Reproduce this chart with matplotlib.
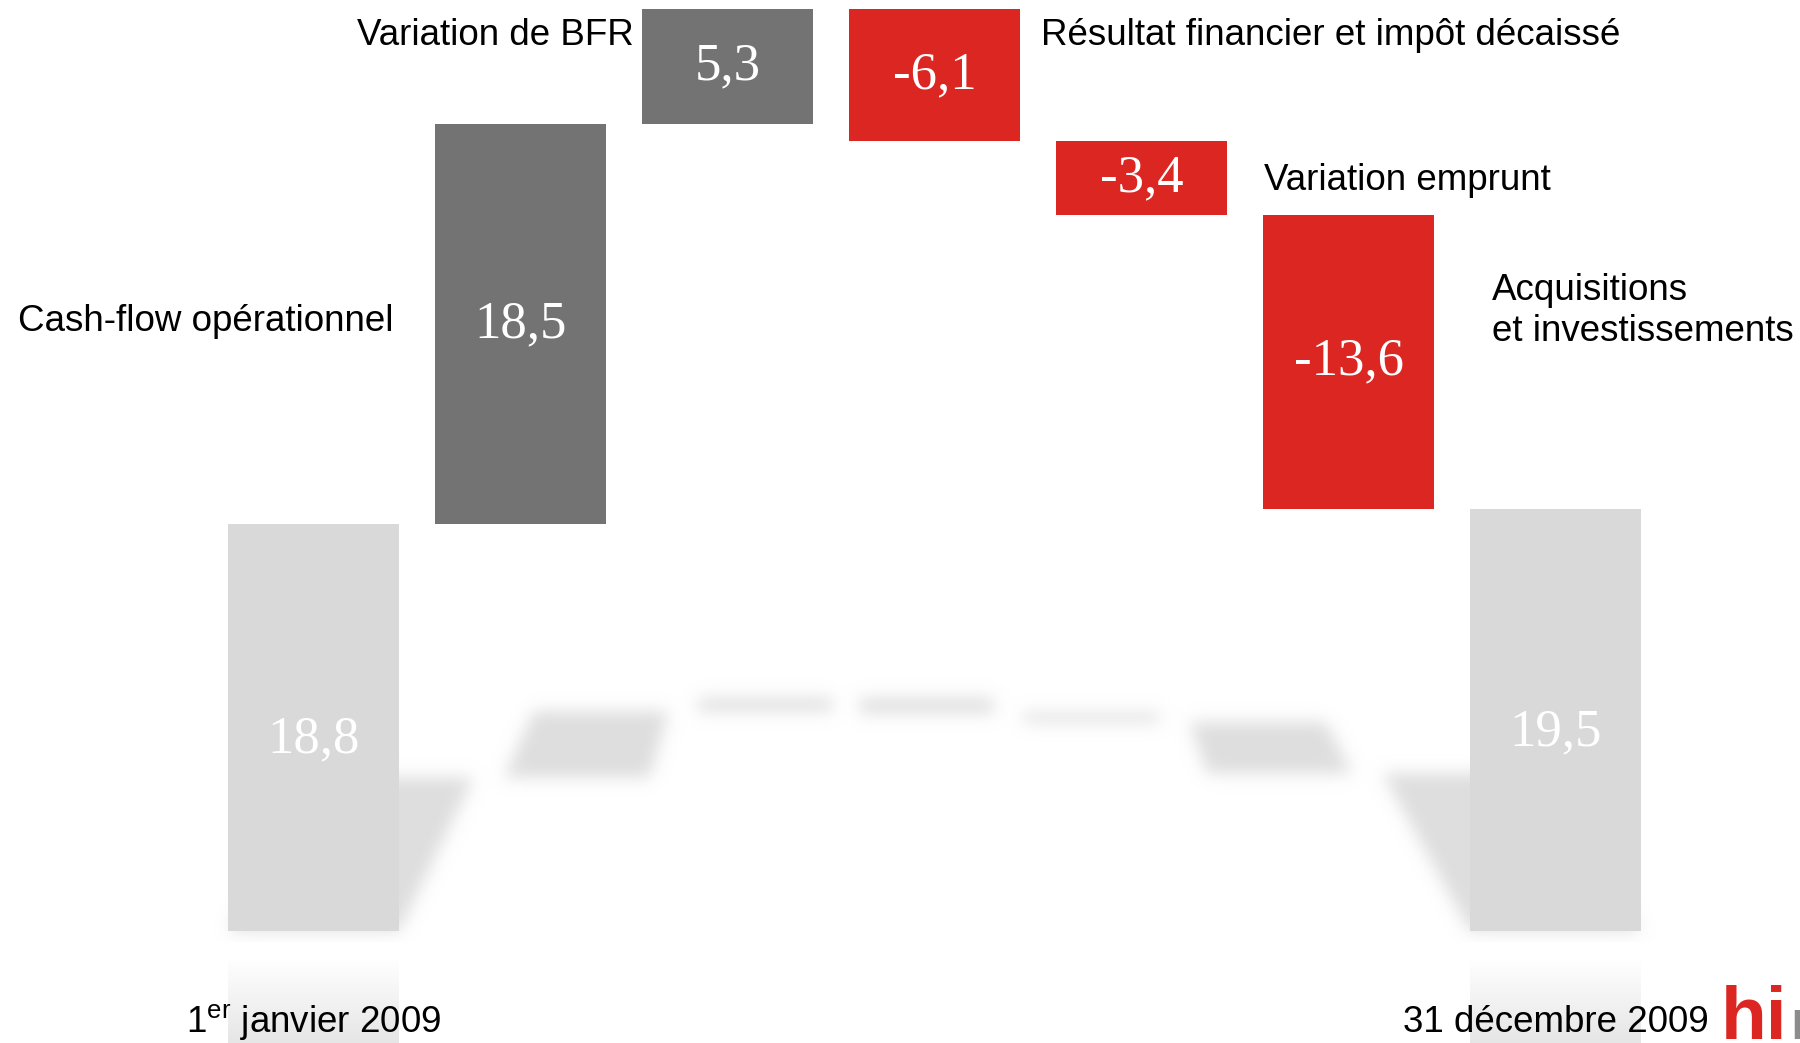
import numpy as np
import matplotlib
matplotlib.use('Agg')
import matplotlib.pyplot as plt
from matplotlib.path import Path

plt.rcParams['font.family'] = ['Liberation Sans', 'DejaVu Sans']
plt.rcParams['mathtext.fontset'] = 'custom'
plt.rcParams['mathtext.rm'] = 'Liberation Sans'

# waterfall data (M EUR)
categories = ['1er janvier 2009', 'Cash-flow opérationnel', 'Variation de BFR',
              'Résultat financier et impôt décaissé', 'Variation emprunt',
              'Acquisitions\net investissements', '31 décembre 2009']
values = [18.8, 18.5, 5.3, -6.1, -3.4, -13.6, 19.5]
value_labels = ['18,8', '18,5', '5,3', '-6,1', '-3,4', '-13,6', '19,5']
kinds = ['total', 'up', 'up', 'down', 'down', 'down', 'total']

colors = {'total': '#d9d9d9', 'up': '#737373', 'down': '#dc2622'}

# running bottoms / tops
bottoms, tops = [], []
cum = 0
for v, k in zip(values, kinds):
    if k == 'total':
        b, t = 0, v
        cum = v
    else:
        b = cum
        cum = cum + v
        t = cum
    bottoms.append(min(b, t))
    tops.append(max(b, t))

PX = 21.64   # pixels per unit
XS = 207.0   # pixels per category
W = 0.826

fig = plt.figure(figsize=(18, 10.43), dpi=100)
ax = fig.add_axes([0, 0, 1, 1])
ax.axis('off')
x0, x1 = -313.5 / XS, (1800 - 313.5) / XS
y0, y1 = -(1043 - 931) / PX, 931 / PX

x = np.arange(len(values))

# floor shadows, blurred
A, B, XC = 18.16, 29.2, 2.83
def depth(v):
    return A * v / (v + B)

def shadow_pt(px, v):
    d = depth(v)
    return px + (XC - px) * d * 0.02095, d

gy0, gy1 = -0.5, 12.0
cols, rows = 1800, int((gy1 - gy0) * PX)
gx = np.linspace(x0, x1, cols)
gyy = np.linspace(gy0, gy1, rows)
XX, YY = np.meshgrid(gx, gyy)
pts = np.column_stack([XX.ravel(), YY.ravel()])
mask = np.zeros(rows * cols)
for i in range(len(values)):
    xl, xr = x[i] - W / 2, x[i] + W / 2
    poly = [shadow_pt(xl, bottoms[i]), shadow_pt(xr, bottoms[i]),
            shadow_pt(xr, tops[i]), shadow_pt(xl, tops[i])]
    mask = np.maximum(mask, Path(poly).contains_points(pts))
mask = mask.reshape(rows, cols).astype(float)
k = np.exp(-0.5 * (np.arange(-24, 25) / 8.0) ** 2)
k /= k.sum()
blur = np.apply_along_axis(lambda r: np.convolve(r, k, mode='same'), 1, mask)
blur = np.apply_along_axis(lambda c: np.convolve(c, k, mode='same'), 0, blur)
sh = np.zeros((rows, cols, 4))
sh[..., :3] = 0.85
sh[..., 3] = blur * 0.85
ax.imshow(sh, extent=[x0, x1, gy0, gy1], origin='lower', aspect='auto',
          interpolation='bilinear', zorder=1)

# bars
ax.bar(x, np.array(tops) - np.array(bottoms), bottom=bottoms, width=W,
       color=[colors[k_] for k_ in kinds], zorder=2)

# reflections under the totals
ry_top = -14 / PX
grad = np.linspace(0, 1, 100)[:, None]
for i, kd in enumerate(kinds):
    if kd != 'total':
        continue
    r = np.zeros((100, 2, 4))
    r[..., :3] = 0.85
    r[..., 3] = np.clip(0.65 * (1 - grad * 1.15), 0, 1)
    ax.imshow(r, extent=[x[i] - W / 2, x[i] + W / 2, ry_top, y0], origin='upper',
              aspect='auto', interpolation='bilinear', zorder=1)

# value labels
for i in range(len(values)):
    if kinds[i] == 'total':
        yl = values[i] * 0.47
    else:
        yl = (bottoms[i] + tops[i]) / 2
    ax.text(x[i], yl, value_labels[i], ha='center', va='center', color='white',
            fontsize=38, family=['Liberation Serif', 'DejaVu Serif'], zorder=3)

# category labels
fs = 26.5
ax.text(x[0], (931 - 1023) / PX, '1$^{\\rm er}$ janvier 2009', ha='center', va='center', fontsize=fs)
ax.text(x[6], (931 - 1023) / PX, categories[6], ha='center', va='center', fontsize=fs)
ax.text(x[1] - W / 2 - 42 / XS, (bottoms[1] + tops[1]) / 2 + 0.1, categories[1],
        ha='right', va='center', fontsize=fs)
ax.text(x[2] - W / 2 - 8 / XS, tops[2] - 1.2, categories[2], ha='right', va='center', fontsize=fs)
ax.text(x[3] + W / 2 + 21 / XS, tops[3] - 1.2, categories[3], ha='left', va='center', fontsize=fs)
ax.text(x[4] + W / 2 + 37 / XS, (bottoms[4] + tops[4]) / 2 - 0.1, categories[4],
        ha='left', va='center', fontsize=fs)
ax.text(x[5] + W / 2 + 58 / XS, tops[5] - 4.45, categories[5], ha='left', va='center',
        fontsize=fs, linespacing=1.22)

ax.set_xlim(x0, x1)
ax.set_ylim(y0, y1)

# logo (cut off at the corner)
fig.text(1721 / 1800, 0.004, 'hi', color='#dc2622', fontsize=54, fontweight='bold', va='baseline')
fig.text(1790 / 1800, 0.004, 'm', color='#8c8c8c', fontsize=40, fontweight='bold', va='baseline')

fig.savefig('out.png', dpi=100, facecolor='white')
